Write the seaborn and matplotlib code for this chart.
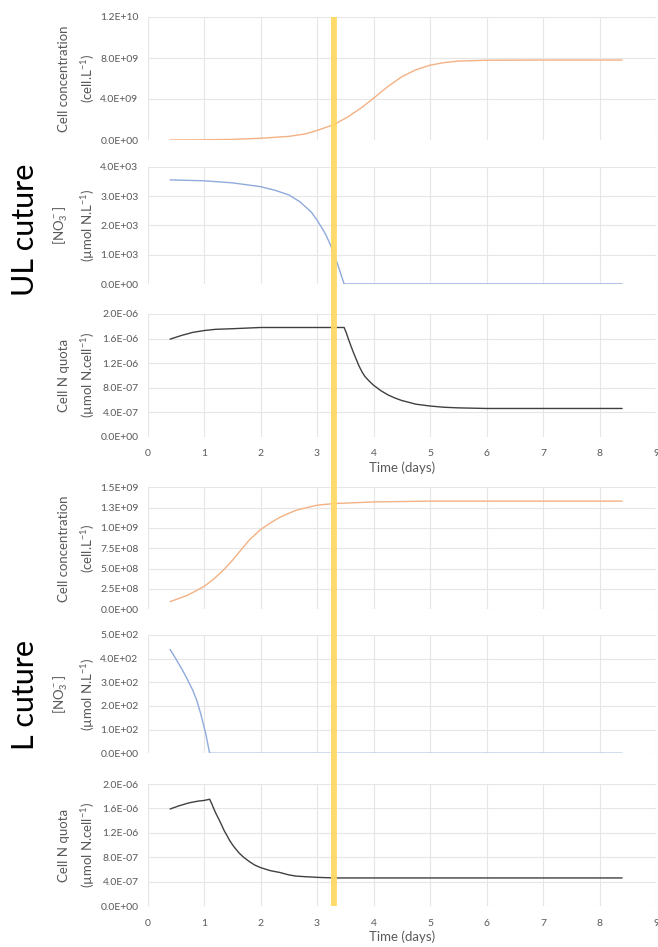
import numpy as np
import matplotlib
matplotlib.use('Agg')
import matplotlib.pyplot as plt
import seaborn as sns
from matplotlib.patches import ConnectionPatch
from matplotlib.ticker import FuncFormatter

# ---- data (time in days) ----
# UL culture
ul_cell_t = [0.4, 1.0, 1.5, 2.0, 2.5, 2.8, 3.0, 3.3, 3.55, 3.8, 4.0, 4.25, 4.5, 4.75, 5.0, 5.25, 5.5, 6.0, 7.0, 8.4]
ul_cell = np.array([0.0, 0.02, 0.06, 0.17, 0.35, 0.6, 0.93, 1.5, 2.27, 3.2, 4.07, 5.2, 6.17, 6.85, 7.3, 7.55, 7.7, 7.78, 7.8, 7.8]) * 1e9

ul_no3_t = [0.4, 1.0, 1.5, 2.0, 2.25, 2.5, 2.7, 2.9, 3.0, 3.1, 3.15, 3.2, 3.25, 3.3, 3.36, 3.42, 3.48, 4.0, 8.4]
ul_no3 = np.array([3.55, 3.52, 3.45, 3.32, 3.2, 3.04, 2.8, 2.45, 2.18, 1.87, 1.7, 1.5, 1.27, 1.0, 0.7, 0.35, 0.0, 0.0, 0.0]) * 1e3

ul_quota_t = [0.4, 0.6, 0.8, 1.0, 1.2, 1.5, 2.0, 2.5, 3.0, 3.48, 3.52, 3.56, 3.6, 3.65, 3.7, 3.74, 3.8, 3.85, 3.92,
              4.0, 4.13, 4.26, 4.38, 4.5, 4.75, 5.0, 5.25, 5.5, 6.0, 8.4]
ul_quota = np.array([1.59, 1.65, 1.70, 1.73, 1.75, 1.76, 1.78, 1.78, 1.78, 1.78, 1.69, 1.58, 1.48, 1.36, 1.25, 1.16,
                     1.05, 0.98, 0.91, 0.84, 0.75, 0.68, 0.63, 0.59, 0.53, 0.50, 0.48, 0.47, 0.46, 0.46]) * 1e-6

# L culture
l_cell_t = [0.4, 0.7, 1.0, 1.17, 1.34, 1.5, 1.63, 1.8, 2.0, 2.17, 2.34, 2.5, 2.64, 3.0, 3.3, 4.0, 5.0, 8.4]
l_cell = np.array([0.094, 0.17, 0.28, 0.37, 0.48, 0.6, 0.71, 0.85, 0.98, 1.06, 1.13, 1.18, 1.22, 1.28, 1.30, 1.32, 1.33, 1.33]) * 1e9

l_no3_t = [0.4, 0.5, 0.62, 0.7, 0.8, 0.87, 0.94, 1.03, 1.1, 8.4]
l_no3 = np.array([4.39, 4.0, 3.51, 3.15, 2.67, 2.25, 1.69, 0.84, 0.0, 0.0]) * 1e2

l_quota_t = [0.4, 0.55, 0.73, 0.9, 1.0, 1.1, 1.14, 1.18, 1.22, 1.27, 1.32, 1.36, 1.41, 1.45, 1.5, 1.54, 1.62, 1.7,
             1.8, 1.9, 2.0, 2.17, 2.34, 2.5, 2.63, 2.8, 3.0, 3.3, 8.4]
l_quota = np.array([1.59, 1.64, 1.69, 1.72, 1.73, 1.75, 1.67, 1.58, 1.50, 1.41, 1.31, 1.23, 1.15, 1.08, 1.01, 0.96,
                    0.87, 0.80, 0.73, 0.67, 0.63, 0.58, 0.55, 0.51, 0.49, 0.48, 0.47, 0.46, 0.46]) * 1e-6

transition_day = 3.3

# y tick positions per panel
cell_ul_ticks = [0, 4e9, 8e9, 1.2e10]
no3_ul_ticks = [0, 1e3, 2e3, 3e3, 4e3]
quota_ticks = [0, 0.4e-6, 0.8e-6, 1.2e-6, 1.6e-6, 2.0e-6]
cell_l_ticks = [0, 0.25e9, 0.5e9, 0.75e9, 1.0e9, 1.25e9, 1.5e9]
no3_l_ticks = [0, 1e2, 2e2, 3e2, 4e2, 5e2]
day_ticks = list(range(10))

ORANGE = '#F4B183'
BLUE = '#8FAADC'
DARK = '#404040'
GRID = '#E6E6E6'
TXT = '#595959'

sns.set_style('white')
plt.rcParams['font.family'] = ['Lato', 'DejaVu Sans']
plt.rcParams['mathtext.default'] = 'regular'

fig = plt.figure(figsize=(6.58, 9.47), dpi=100)

L = 147.5 / 658
W = 508.5 / 658
# (top, bottom) pixel rows of each panel
rows = [(17, 140), (166.7, 284), (314, 436.7), (487.3, 609.3), (635, 753.3), (784, 906)]
axes = [fig.add_axes([L, 1 - b / 947, W, (b - t) / 947]) for t, b in rows]


def excel_fmt(v, pos):
    return f"{v * (1 + 1e-9):.1E}"


cell_lbl = 'Cell concentration\n(cell.L$^{-1}$)'
no3_lbl = '[NO$_3^-$]\n(µmol N.L$^{-1}$)'
quota_lbl = 'Cell N quota\n(µmol N.cell$^{-1}$)'

panels = [
    (ul_cell_t, ul_cell, ORANGE, cell_ul_ticks, cell_lbl),
    (ul_no3_t, ul_no3, BLUE, no3_ul_ticks, no3_lbl),
    (ul_quota_t, ul_quota, DARK, quota_ticks, quota_lbl),
    (l_cell_t, l_cell, ORANGE, cell_l_ticks, cell_lbl),
    (l_no3_t, l_no3, BLUE, no3_l_ticks, no3_lbl),
    (l_quota_t, l_quota, DARK, quota_ticks, quota_lbl),
]

for i, (ax, (t, v, col, yt, lbl)) in enumerate(zip(axes, panels)):
    sns.lineplot(x=t, y=v, ax=ax, color=col, linewidth=1.0, estimator=None, sort=False)
    ax.set_xlim(0, 9)
    ax.set_ylim(yt[0], yt[-1])
    ax.set_xticks(day_ticks)
    ax.set_yticks(yt)
    ax.yaxis.set_major_formatter(FuncFormatter(excel_fmt))
    ax.grid(True, color=GRID, linewidth=0.8)
    for s in ax.spines.values():
        s.set_visible(False)
    ax.tick_params(length=0, labelsize=7.5, labelcolor=TXT, pad=6.5)
    ax.tick_params(axis='x', pad=9)
    ax.set_ylabel(lbl, fontsize=9.5, color=TXT, linespacing=1.6)
    ax.yaxis.set_label_coords(-0.1, 0.5)
    if i in (2, 5):
        ax.set_xlabel('Time (days)', fontsize=9.5, color=TXT, labelpad=2)
    else:
        ax.tick_params(axis='x', labelbottom=False)
        ax.set_xlabel('')

# big culture titles
fig.text(25 / 658, 1 - 230 / 947, 'UL cuture', rotation=90, fontsize=22, ha='center', va='center', color='black')
fig.text(25 / 658, 1 - 695 / 947, 'L cuture', rotation=90, fontsize=22, ha='center', va='center', color='black')

# yellow marker across all panels
con = ConnectionPatch(xyA=(transition_day, cell_ul_ticks[-1]), coordsA='data', axesA=axes[0],
                      xyB=(transition_day, quota_ticks[0]), coordsB='data', axesB=axes[5],
                      color='#FFD966', linewidth=4.3, alpha=0.95, zorder=5, capstyle='butt')
fig.add_artist(con)

fig.savefig('out.png', dpi=100)
